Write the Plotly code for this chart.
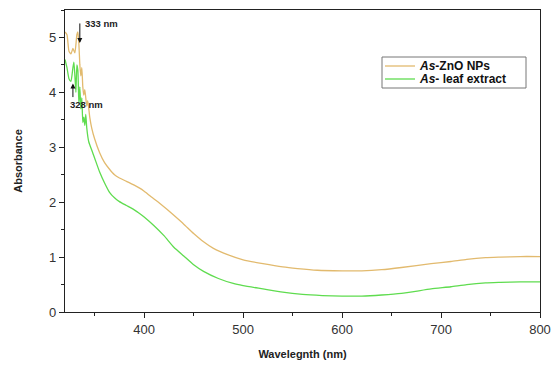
import plotly.graph_objects as go

# As-ZnO NPs
wl_zno = [320, 322, 324, 326, 328, 330, 332, 333, 334, 335, 336, 337, 338, 339, 340, 341, 342, 343, 345, 347,
          350, 355, 360, 365, 370, 375, 382, 390, 395, 400, 407, 415, 423, 430, 440, 450, 460, 470, 485, 500,
          520, 540, 555, 575, 600, 620, 640, 660, 690, 710, 726, 745, 760, 780, 800]
abs_zno = [5.1, 5.05, 4.75, 4.7, 4.8, 4.72, 5.05, 5.1, 4.9, 4.5, 4.3, 4.45, 4.1, 3.95, 4.05, 3.9, 3.75, 3.85, 3.55, 3.35,
           3.15, 2.9, 2.72, 2.6, 2.5, 2.44, 2.38, 2.31, 2.26, 2.2, 2.1, 1.99, 1.87, 1.76, 1.6, 1.43, 1.28, 1.16, 1.04, 0.95,
           0.88, 0.82, 0.79, 0.76, 0.75, 0.75, 0.77, 0.81, 0.88, 0.92, 0.96, 0.99, 1.0, 1.01, 1.01]

# As- leaf extract
wl_leaf = [320, 322, 324, 326, 328, 329, 330, 331, 332, 333, 334, 335, 336, 337, 338, 339, 340, 341, 342, 344,
           347, 350, 355, 360, 365, 370, 375, 382, 390, 395, 400, 410, 420, 430, 440, 450, 460, 475, 490, 500,
           520, 540, 560, 580, 600, 620, 640, 660, 690, 710, 726, 745, 760, 780, 800]
abs_leaf = [4.6, 4.45, 4.25, 4.2, 4.45, 4.55, 4.3, 4.0, 4.5, 4.4, 3.8, 4.1, 3.7, 3.9, 3.45, 3.55, 3.4, 3.6, 3.35, 3.1,
            2.95, 2.8, 2.55, 2.35, 2.18, 2.08, 2.01, 1.94, 1.86, 1.8, 1.73, 1.57, 1.39, 1.18, 1.02, 0.86, 0.74, 0.61, 0.52, 0.48,
            0.42, 0.36, 0.32, 0.30, 0.29, 0.29, 0.31, 0.34, 0.42, 0.46, 0.50, 0.53, 0.54, 0.55, 0.55]

series_names = ["<b><i>As</i>-ZnO NPs</b>", "<b><i>As</i>- leaf extract</b>"]
series_colors = ["#E2BA6E", "#5FDC4F"]
x_ticks = [400, 500, 600, 700, 800]
y_ticks = [0, 1, 2, 3, 4, 5]

W, H = 554, 365
ML, MR, MT, MB = 65, 14, 10, 53
PW, PH = W - ML - MR, H - MT - MB

def px_x(px):
    return (px - ML) / PW

def px_y(py):
    return 1 - (py - MT) / PH

fig = go.Figure()
fig.add_trace(go.Scatter(x=wl_zno, y=abs_zno, mode="lines", name=series_names[0],
                         line=dict(color=series_colors[0], width=1.3, shape="spline", smoothing=0.5),
                         showlegend=False))
fig.add_trace(go.Scatter(x=wl_leaf, y=abs_leaf, mode="lines", name=series_names[1],
                         line=dict(color=series_colors[1], width=1.3, shape="spline", smoothing=0.5),
                         showlegend=False))

font_family = "Liberation Sans, Arial, sans-serif"

fig.add_annotation(x=335, y=4.9, xref="x", yref="y", text="", showarrow=True,
                   ax=0, ay=-21, arrowhead=2, arrowsize=1, arrowwidth=1, arrowcolor="#111")
fig.add_annotation(x=335, y=4.9, xref="x", yref="y", text="<b>333 nm</b>", showarrow=False,
                   xanchor="left", yanchor="middle", xshift=3, yshift=19,
                   font=dict(size=9.5, color="#222", family=font_family))
fig.add_annotation(x=328, y=4.16, xref="x", yref="y", text="", showarrow=True,
                   ax=0, ay=15, arrowhead=2, arrowsize=1, arrowwidth=1, arrowcolor="#111")
fig.add_annotation(x=328, y=4.16, xref="x", yref="y", text="<b>328 nm</b>", showarrow=False,
                   xanchor="left", yanchor="middle", xshift=-5, yshift=-21,
                   font=dict(size=9.5, color="#222", family=font_family))

# custom legend (box, sample lines, labels)
fig.add_shape(type="rect", xref="paper", yref="paper",
              x0=px_x(382), x1=px_x(526), y0=px_y(88), y1=px_y(57),
              line=dict(color="#777", width=1), fillcolor="white", layer="above")
for i, (name, col) in enumerate(zip(series_names, series_colors)):
    yy = 66 + 13 * i
    fig.add_shape(type="line", xref="paper", yref="paper",
                  x0=px_x(385), x1=px_x(415), y0=px_y(yy), y1=px_y(yy),
                  line=dict(color=col, width=1.3), layer="above")
    fig.add_annotation(xref="paper", yref="paper", x=px_x(417), y=px_y(yy), text=name,
                       showarrow=False, xanchor="left", yanchor="middle",
                       font=dict(size=12, color="#111", family=font_family))

axis_common = dict(showline=True, linecolor="#222", linewidth=1.3, mirror=True,
                   ticks="outside", ticklen=5, tickwidth=1.2, tickcolor="#222",
                   showgrid=False, zeroline=False, automargin=False,
                   tickfont=dict(size=13, color="#333", family=font_family))

fig.update_xaxes(range=[320, 800], tickvals=x_ticks,
                 minor=dict(dtick=50, tick0=300, ticks="outside", ticklen=3, tickcolor="#222"),
                 title=dict(text="<b>Wavelegnth (nm)</b>", font=dict(size=11, color="#222", family=font_family),
                            standoff=14),
                 **axis_common)
fig.update_yaxes(range=[0, 5.5], tickvals=y_ticks,
                 minor=dict(dtick=0.5, tick0=0, ticks="outside", ticklen=3, tickcolor="#222"),
                 title=dict(text="<b>Absorbance</b>", font=dict(size=11, color="#222", family=font_family),
                            standoff=24),
                 **axis_common)

fig.update_layout(
    width=W, height=H,
    margin=dict(l=ML, r=MR, t=MT, b=MB),
    paper_bgcolor="white", plot_bgcolor="white",
    showlegend=False,
)

fig.write_html("out.html")
